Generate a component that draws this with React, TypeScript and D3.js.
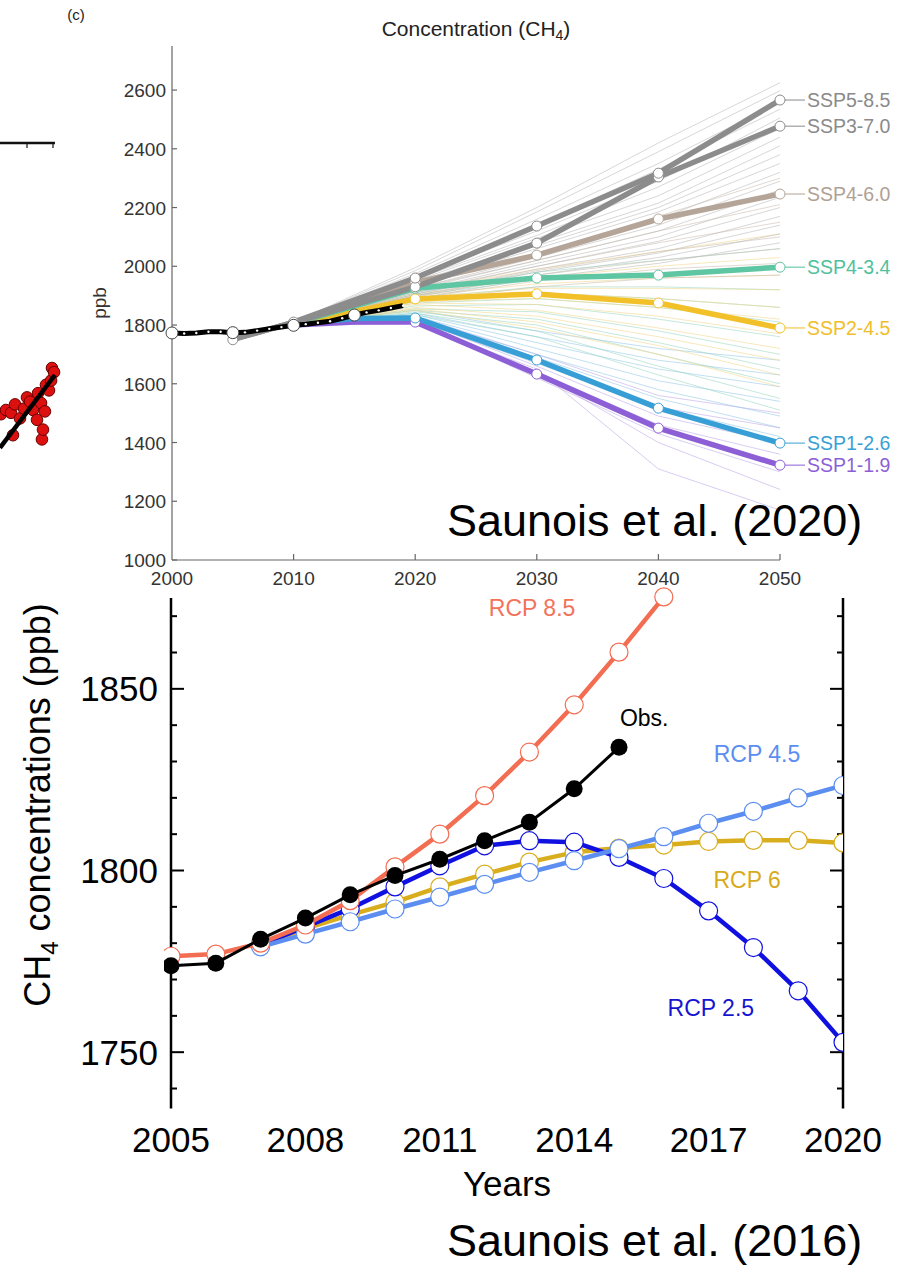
import React from "react";
import * as d3 from "d3";

// ---------- Top panel (Saunois et al. 2020) data ----------
const topYTicks = [1000, 1200, 1400, 1600, 1800, 2000, 2200, 2400, 2600];
const topXTicks = [2000, 2010, 2020, 2030, 2040, 2050];

const histYears = [2000, 2001, 2002, 2003, 2004, 2005, 2006, 2007, 2008, 2009, 2010, 2011, 2012, 2013, 2014, 2015, 2016, 2017, 2018, 2019];
const histVals = [1773, 1771, 1773, 1777, 1777, 1774, 1775, 1781, 1787, 1793, 1799, 1803, 1808, 1813, 1823, 1834, 1843, 1850, 1858, 1866];
const histBigYears = [2000, 2005, 2010, 2015];

const thinYears = [2010, 2020, 2030, 2040, 2050];
const thinGray = [
  [1810, 1995, 2200, 2420, 2625],
  [1810, 1985, 2185, 2390, 2598],
  [1810, 1975, 2160, 2350, 2560],
  [1808, 1968, 2140, 2330, 2535],
  [1808, 1962, 2120, 2290, 2505],
  [1808, 1955, 2105, 2270, 2470],
  [1806, 1950, 2095, 2240, 2440],
  [1806, 1945, 2080, 2215, 2410],
  [1806, 1940, 2070, 2200, 2380],
  [1805, 1935, 2060, 2185, 2350],
  [1805, 1930, 2045, 2160, 2320],
  [1805, 1925, 2030, 2140, 2290],
  [1804, 1920, 2020, 2120, 2260],
  [1804, 1915, 2010, 2100, 2235],
  [1804, 1910, 2000, 2085, 2200],
  [1803, 1905, 1990, 2060, 2170],
  [1803, 1900, 1980, 2045, 2140],
  [1803, 1895, 1970, 2030, 2110],
  [1802, 1890, 1960, 2010, 2080],
];
const thinTan = [
  [1805, 1935, 2040, 2170, 2300],
  [1805, 1925, 2020, 2120, 2210],
  [1804, 1915, 2000, 2080, 2150],
  [1804, 1905, 1985, 2050, 2100],
  [1803, 1900, 1970, 2020, 2060],
  [1803, 1890, 1950, 1990, 2010],
  [1802, 1880, 1930, 1960, 1970],
];
const thinTeal = [
  [1805, 1910, 1980, 2020, 2060],
  [1804, 1900, 1955, 1975, 1990],
  [1804, 1890, 1930, 1930, 1920],
  [1803, 1885, 1910, 1890, 1860],
  [1803, 1875, 1890, 1860, 1810],
  [1802, 1865, 1870, 1820, 1760],
  [1802, 1855, 1845, 1780, 1700],
  [1801, 1850, 1820, 1740, 1650],
  [1801, 1845, 1800, 1700, 1600],
  [1800, 1840, 1780, 1660, 1550],
  [1800, 1835, 1760, 1630, 1510],
];
const thinYellow = [
  [1806, 1915, 1990, 2050, 2110],
  [1806, 1905, 1960, 2000, 2030],
  [1805, 1900, 1940, 1960, 1970],
  [1805, 1895, 1925, 1925, 1920],
  [1804, 1890, 1910, 1890, 1860],
  [1804, 1880, 1890, 1860, 1820],
  [1803, 1875, 1870, 1830, 1770],
  [1803, 1870, 1850, 1790, 1720],
  [1802, 1860, 1830, 1760, 1680],
  [1802, 1855, 1810, 1730, 1630],
  [1801, 1850, 1790, 1700, 1590],
];
const thinBlue = [
  [1803, 1850, 1780, 1720, 1680],
  [1803, 1840, 1760, 1680, 1630],
  [1802, 1835, 1740, 1650, 1590],
  [1802, 1830, 1720, 1610, 1540],
  [1801, 1825, 1700, 1580, 1490],
  [1801, 1820, 1690, 1550, 1450],
  [1800, 1815, 1670, 1520, 1420],
];
const thinPurple = [
  [1802, 1830, 1700, 1560, 1500],
  [1801, 1825, 1680, 1520, 1450],
  [1801, 1820, 1660, 1490, 1400],
  [1800, 1815, 1640, 1460, 1360],
  [1800, 1810, 1620, 1430, 1300],
  [1799, 1808, 1640, 1400, 1240],
  [1799, 1805, 1650, 1310, 1170],
];

const sspNames = ["SSP1-1.9", "SSP1-2.6", "SSP2-4.5", "SSP4-3.4", "SSP4-6.0", "SSP3-7.0", "SSP5-8.5"];
const sspYears = [
  [2010, 2015, 2020, 2030, 2040, 2050],
  [2010, 2015, 2020, 2030, 2040, 2050],
  [2010, 2020, 2030, 2040, 2050],
  [2010, 2020, 2030, 2040, 2050],
  [2010, 2020, 2030, 2040, 2050],
  [2005, 2010, 2020, 2030, 2040, 2050],
  [2005, 2010, 2020, 2030, 2040, 2050],
];
const sspVals = [
  [1800, 1810, 1810, 1633, 1449, 1323],
  [1803, 1822, 1824, 1681, 1517, 1398],
  [1804, 1889, 1906, 1875, 1790],
  [1805, 1925, 1960, 1970, 1997],
  [1806, 1945, 2038, 2161, 2246],
  [1752, 1808, 1930, 2079, 2304, 2477],
  [1750, 1810, 1960, 2137, 2317, 2566],
];
const sspMarkYears = [
  [2020, 2030, 2040, 2050],
  [2020, 2030, 2040, 2050],
  [2020, 2030, 2040, 2050],
  [2020, 2030, 2040, 2050],
  [2020, 2030, 2040, 2050],
  [2020, 2030, 2040, 2050],
  [2005, 2010, 2020, 2030, 2040, 2050],
];
const sspColors = ["#8d5fd6", "#389fd6", "#f2c12a", "#5ec6a2", "#b4a598", "#8c8c8c", "#8c8c8c"];
const sspLabelColors = ["#8d5fd6", "#389fd6", "#f0be2a", "#4fc19c", "#b0a195", "#8a8a8a", "#8a8a8a"];

// ---------- Fragment of a panel at the far left ----------
const fragYears = [2016.0, 2016.38, 2016.77, 2016.92, 2017.08, 2017.46, 2017.77, 2018.0, 2018.23, 2018.46, 2018.77, 2018.85, 2019.08, 2019.15, 2019.23, 2019.38, 2019.46, 2019.69, 2019.85, 2019.92, 2020.08];
const fragVals = [1847, 1850, 1848, 1832, 1854, 1844, 1851, 1859, 1856, 1850, 1843, 1862, 1855, 1829, 1836, 1849, 1868, 1864, 1871, 1880, 1877];
const fragTrendYears = [2015.92, 2020.15];
const fragTrendVals = [1823, 1875];
const fragTicks = [2018, 2020];

// ---------- Bottom panel (Saunois et al. 2016) data ----------
const botXTicks = [2005, 2008, 2011, 2014, 2017, 2020];
const botYTicks = [1740, 1750, 1760, 1770, 1780, 1790, 1800, 1810, 1820, 1830, 1840, 1850, 1860, 1870];
const botYLabels = [1750, 1800, 1850];

const rcp85Years = [2005, 2006, 2007, 2008, 2009, 2010, 2011, 2012, 2013, 2014, 2015, 2016];
const rcp85Vals = [1776.4, 1777, 1780, 1785, 1791.7, 1801, 1810, 1820.6, 1832.6, 1845.6, 1860.1, 1875.3];
const rcpYears = [2007, 2008, 2009, 2010, 2011, 2012, 2013, 2014, 2015, 2016, 2017, 2018, 2019, 2020];
const rcp26Vals = [1779.5, 1784.5, 1789.5, 1795.5, 1801.3, 1806.8, 1808.2, 1807.8, 1803.6, 1797.8, 1788.9, 1778.8, 1766.9, 1752.7];
const rcp6Vals = [1779.5, 1784, 1787.8, 1791.3, 1795.5, 1799, 1802.3, 1805, 1806.2, 1807, 1808, 1808.3, 1808.3, 1807.6];
const rcp45Vals = [1779, 1782.5, 1785.9, 1789.4, 1792.7, 1796.2, 1799.5, 1802.7, 1806, 1809.3, 1813, 1816.3, 1820, 1823.4];
const obsYears = [2005, 2006, 2007, 2008, 2009, 2010, 2011, 2012, 2013, 2014, 2015];
const obsVals = [1773.8, 1774.5, 1781.1, 1786.9, 1793.3, 1798.6, 1803.1, 1808.2, 1813.3, 1822.5, 1833.9];

const botLabels = ["RCP 8.5", "Obs.", "RCP 4.5", "RCP 6", "RCP 2.5"];
const botLabelYears = [2013.06, 2015.02, 2018.08, 2017.86, 2017.05];
const botLabelVals = [1872.3, 1842, 1832.1, 1797.4, 1762.2];
const botLabelAnchors = ["middle", "start", "middle", "middle", "middle"];
const botLabelColors = ["#f3725a", "#000000", "#5b8ef0", "#d8ab1c", "#1515d0"];

const FONT = "'Liberation Sans', Arial, Helvetica, sans-serif";

export default function App() {
  // top scales
  const xT = d3.scaleLinear().domain([2000, 2050]).range([172, 780]);
  const yT = d3.scaleLinear().domain([1000, 2750]).range([560, 46]);
  const lineT = d3
    .line<[number, number]>()
    .x((d) => xT(d[0]))
    .y((d) => yT(d[1]));

  // fragment scales
  const xF = d3.scaleLinear().domain([2015, 2020]).range([-12, 53]);
  const yF = d3.scaleLinear().domain([1800, 1900]).range([480, 340]);

  // bottom scales
  const xB = d3.scaleLinear().domain([2005, 2020]).range([171, 843]);
  const yB = d3.scaleLinear().domain([1734.5, 1875]).range([1108.5, 598]);
  const lineB = d3
    .line<[number, number]>()
    .x((d) => xB(d[0]))
    .y((d) => yB(d[1]));

  const zip = (a: number[], b: number[]) => a.map((v, i) => [v, b[i]] as [number, number]);

  const thinGroups: [number[][], string, number][] = [
    [thinPurple, "#b9a3e6", 0.55],
    [thinBlue, "#8ec4e6", 0.55],
    [thinTeal, "#93d6bf", 0.55],
    [thinYellow, "#f1d98f", 0.6],
    [thinTan, "#cdbfb2", 0.6],
    [thinGray, "#bdbdbd", 0.6],
  ];

  const rcpSeries = [
    { years: rcpYears, vals: rcp6Vals, color: "#d9ae1e" },
    { years: rcpYears, vals: rcp26Vals, color: "#1010e0" },
    { years: rcpYears, vals: rcp45Vals, color: "#5b8ef0" },
    { years: rcp85Years, vals: rcp85Vals, color: "#f36d52" },
  ];

  return (
    <svg
      width={907}
      height={1266}
      viewBox="0 0 907 1266"
      style={{ position: "absolute", left: 0, top: 0, background: "#fff" }}
      fontFamily={FONT}
    >
      <rect x={0} y={0} width={907} height={1266} fill="#fff" />
      <defs>
        <clipPath id="botclip">
          <rect x={164} y={560} width={679} height={560} />
        </clipPath>
      </defs>

      {/* ---------- left fragment ---------- */}
      <g>
        <line x1={0} x2={xF(2020.15)} y1={143} y2={143} stroke="#111" strokeWidth={2.5} />
        {fragTicks.map((t) => (
          <line key={t} x1={xF(t)} x2={xF(t)} y1={143} y2={148} stroke="#111" strokeWidth={1.2} />
        ))}
        {fragYears.map((yr, i) => (
          <circle key={i} cx={xF(yr)} cy={yF(fragVals[i])} r={5.8} fill="#dd1010" stroke="#6a0000" strokeWidth={1} />
        ))}
        <path
          d={d3.line<[number, number]>().x((d) => xF(d[0])).y((d) => yF(d[1]))(zip(fragTrendYears, fragTrendVals)) || ""}
          stroke="#000"
          strokeWidth={4.5}
          fill="none"
        />
      </g>

      {/* ---------- top panel ---------- */}
      <g>
        <text x={76} y={20} fontSize={15} textAnchor="middle" fill="#222">(c)</text>
        <text x={476} y={36} fontSize={21} textAnchor="middle" fill="#222">
          Concentration (CH<tspan fontSize={14} dy={4}>4</tspan>
          <tspan dy={-4}>)</tspan>
        </text>
        <text transform={`translate(106,303) rotate(-90)`} fontSize={19} textAnchor="middle" fill="#333">ppb</text>

        {/* axes */}
        <line x1={xT(2000)} x2={xT(2000)} y1={yT(2750)} y2={yT(1000)} stroke="#666" strokeWidth={1.2} />
        <line x1={xT(2000)} x2={xT(2050)} y1={yT(1000)} y2={yT(1000)} stroke="#666" strokeWidth={1.2} />
        {topYTicks.map((t) => (
          <g key={t}>
            <line x1={xT(2000)} x2={xT(2000) + 5} y1={yT(t)} y2={yT(t)} stroke="#666" strokeWidth={1.2} />
            <text x={xT(2000) - 6} y={yT(t) + 7} fontSize={19} textAnchor="end" fill="#333">{t}</text>
          </g>
        ))}
        {topXTicks.map((t) => (
          <g key={t}>
            {t > 2000 && <line x1={xT(t)} x2={xT(t)} y1={yT(1000)} y2={yT(1000) - 6} stroke="#666" strokeWidth={1.2} />}
            <text x={xT(t)} y={yT(1000) + 25} fontSize={19} textAnchor="middle" fill="#333">{t}</text>
          </g>
        ))}

        {/* thin ensemble lines */}
        {thinGroups.map(([rows, color, op], gi) => (
          <g key={gi}>
            {rows.map((r, i) => (
              <path key={i} d={lineT(zip(thinYears, r)) || ""} fill="none" stroke={color} strokeWidth={1} opacity={op} />
            ))}
          </g>
        ))}

        {/* main SSP lines */}
        {sspNames.map((name, i) => (
          <path key={name} d={lineT(zip(sspYears[i], sspVals[i])) || ""} fill="none" stroke={sspColors[i]} strokeWidth={5.5} strokeLinejoin="round" />
        ))}
        {sspNames.map((name, i) => (
          <g key={name + "m"}>
            {sspMarkYears[i].map((yr) => {
              const idx = sspYears[i].indexOf(yr);
              return <circle key={yr} cx={xT(yr)} cy={yT(sspVals[i][idx])} r={5} fill="#fff" stroke={sspColors[i]} strokeWidth={1} />;
            })}
          </g>
        ))}
        {/* labels */}
        {sspNames.map((name, i) => {
          const v = sspVals[i][sspVals[i].length - 1];
          return (
            <g key={name + "l"}>
              <line x1={xT(2050) + 5} x2={xT(2050) + 25} y1={yT(v)} y2={yT(v)} stroke={sspLabelColors[i]} strokeWidth={1} />
              <text x={xT(2050) + 27} y={yT(v) + 7} fontSize={19.5} fill={sspLabelColors[i]}>{name}</text>
            </g>
          );
        })}

        {/* historical */}
        <path d={lineT(zip(histYears, histVals)) || ""} fill="none" stroke="#000" strokeWidth={5} />
        {histYears.map((yr, i) => (
          <circle key={yr} cx={xT(yr)} cy={yT(histVals[i])} r={1.2} fill="#fff" />
        ))}
        {histBigYears.map((yr) => (
          <circle key={yr} cx={xT(yr)} cy={yT(histVals[histYears.indexOf(yr)])} r={6} fill="#fff" stroke="#444" strokeWidth={1} />
        ))}

        <text x={447} y={536} fontSize={45} fill="#000">Saunois et al. (2020)</text>
      </g>

      {/* ---------- bottom panel ---------- */}
      <g>
        {/* axes */}
        <line x1={xB(2005)} x2={xB(2005)} y1={yB(1875)} y2={yB(1734.5)} stroke="#000" strokeWidth={2.5} />
        <line x1={xB(2020)} x2={xB(2020)} y1={yB(1875)} y2={yB(1734.5)} stroke="#000" strokeWidth={2.5} />
        {botYTicks.map((t) => {
          const len = t % 50 === 0 ? 13 : 6;
          return (
            <g key={t}>
              <line x1={xB(2005)} x2={xB(2005) + len} y1={yB(t)} y2={yB(t)} stroke="#000" strokeWidth={2} />
              <line x1={xB(2020)} x2={xB(2020) - len} y1={yB(t)} y2={yB(t)} stroke="#000" strokeWidth={2} />
            </g>
          );
        })}
        {botYLabels.map((t) => (
          <text key={t} x={158} y={yB(t) + 12.5} fontSize={35} textAnchor="end" fill="#000">{t}</text>
        ))}
        {botXTicks.map((t) => (
          <text key={t} x={xB(t)} y={1152} fontSize={35} textAnchor="middle" fill="#000">{t}</text>
        ))}
        <text x={507} y={1196} fontSize={35} textAnchor="middle" fill="#000">Years</text>
        <text transform={`translate(50,805) rotate(-90)`} fontSize={36} textAnchor="middle" fill="#000">
          CH<tspan fontSize={24} dy={8}>4</tspan>
          <tspan dy={-8}> concentrations (ppb)</tspan>
        </text>

        <g clipPath="url(#botclip)">
          {rcpSeries.map((s, i) => (
            <g key={i}>
              <path d={lineB(zip(s.years, s.vals)) || ""} fill="none" stroke={s.color} strokeWidth={4.5} strokeLinejoin="round" />
              {s.years.map((yr, j) => (
                <circle key={yr} cx={xB(yr)} cy={yB(s.vals[j])} r={9} fill="#fff" stroke={s.color} strokeWidth={1.2} />
              ))}
            </g>
          ))}
          <path d={lineB(zip(obsYears, obsVals)) || ""} fill="none" stroke="#000" strokeWidth={3} />
          {obsYears.map((yr, j) => (
            <circle key={yr} cx={xB(yr)} cy={yB(obsVals[j])} r={8.5} fill="#000" />
          ))}
        </g>

        {botLabels.map((lab, i) => (
          <text
            key={lab}
            x={xB(botLabelYears[i])}
            y={yB(botLabelVals[i]) + 8}
            fontSize={23}
            textAnchor={botLabelAnchors[i] as any}
            fill={botLabelColors[i]}
          >
            {lab}
          </text>
        ))}

        <text x={447} y={1256} fontSize={45} fill="#000">Saunois et al. (2016)</text>
      </g>
    </svg>
  );
}
